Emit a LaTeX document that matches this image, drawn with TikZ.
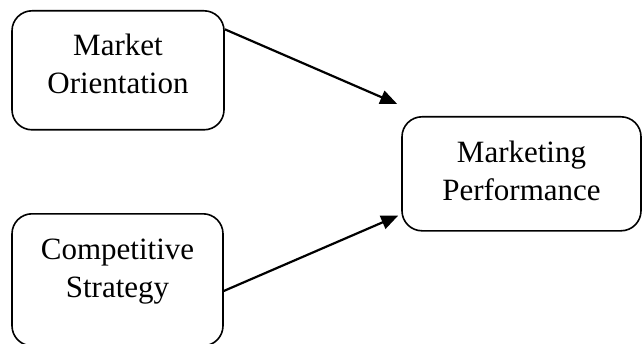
\documentclass[tikz,border=0pt]{standalone}
\usepackage{fontspec}
\setmainfont{Liberation Serif}
\usetikzlibrary{arrows.meta,calc}

\begin{document}
\begin{tikzpicture}[
  x=1pt,y=1pt,
  every node/.style={font=\fontsize{31}{38}\selectfont},
  block/.style={draw,line width=1.6pt,rounded corners=20pt,align=center,
    anchor=north,inner xsep=0pt,inner ysep=0pt,text height=84pt},
  link/.style={line width=2.2pt,-{Triangle[length=17pt,width=14pt]}}
]
\useasboundingbox (0,0) rectangle (642,343);
\clip (0,0) rectangle (642,343);
% boxes
\node[block,minimum width=212pt,text height=83pt,text depth=36pt] (mo) at (118,333) {Market\\Orientation};
\node[block,minimum width=211pt,text depth=48pt] (cs) at (117.5,130) {Competitive\\Strategy};
\node[block,minimum width=239pt,text depth=30pt] (mp) at (521.5,227) {Marketing\\Performance};
% arrows
\draw[link] (mo.21) -- ($(mp.north west)+(-4,12)$);
\draw[link] (cs.-6) -- ($(mp.south west)+(-3,16)$);
\end{tikzpicture}
\end{document}
